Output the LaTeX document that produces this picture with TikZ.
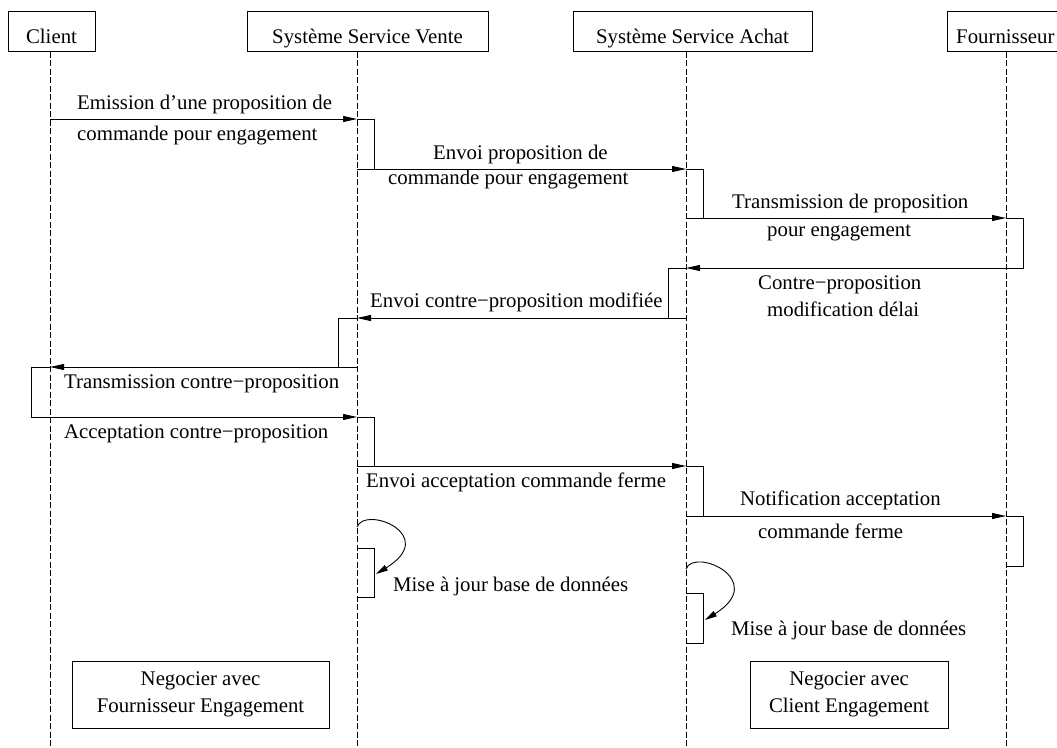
\documentclass[tikz,border=0pt]{standalone}
\usepackage{fontspec}
\setmainfont{Liberation Serif}
\usetikzlibrary{arrows.meta}
\begin{document}
\begin{tikzpicture}[x=1pt,y=-1pt,
  lbl/.style={font=\fontsize{20.8pt}{27pt}\selectfont, inner sep=0pt},
  msg/.style={line width=0.9pt, -{Triangle[length=14pt,width=6pt]}},
  act/.style={line width=0.9pt},
  life/.style={line width=0.8pt, dash pattern=on 6pt off 2.5pt},
  head/.style={draw, line width=0.9pt, lbl, minimum height=40pt, text height=25pt, text depth=1.8pt},
  note/.style={draw, line width=0.9pt, lbl, align=center, minimum height=67pt}]
\useasboundingbox (0,0) rectangle (1057,747);
\fill[white] (0,0) rectangle (1057,747);

% headers
\node[head, minimum width=87pt] (client) at (51.5,31.7) {Client};
\node[head, minimum width=241pt] (ssv) at (367.5,31.7) {Système Service Vente};
\node[head, minimum width=239pt] (ssa) at (692.5,31.7) {Système Service Achat};
\node[lbl, anchor=base west] (four) at (956,43.5) {Fournisseur};
\draw[act] (1057,11.7) -- (947,11.7) -- (947,51.7) -- (1057,51.7);

% lifelines
\coordinate (cT) at (50,51.7);   \coordinate (cB) at (50,747);
\coordinate (vT) at (357,51.7);  \coordinate (vB) at (357,747);
\coordinate (aT) at (686,51.7);  \coordinate (aB) at (686,747);
\coordinate (fT) at (1006,51.7); \coordinate (fB) at (1006,747);
\draw[life] (cT) -- (cB);
\draw[life] (vT) -- (vB);
\draw[life] (aT) -- (aB);
\draw[life] (fT) -- (fB);

% message end points
\coordinate (m1s) at (50,119);   \coordinate (m1e) at (357,119);
\coordinate (m2s) at (357,169);  \coordinate (m2e) at (686,169);
\coordinate (m3s) at (686,218);  \coordinate (m3e) at (1006,218);
\coordinate (m4s) at (1006,268); \coordinate (m4e) at (686,268);
\coordinate (m5s) at (686,318);  \coordinate (m5e) at (357,318);
\coordinate (m6s) at (357,367);  \coordinate (m6e) at (50,367);
\coordinate (m7s) at (50,417);   \coordinate (m7e) at (357,417);
\coordinate (m8s) at (357,466);  \coordinate (m8e) at (686,466);
\coordinate (m9s) at (686,516);  \coordinate (m9e) at (1006,516);

% activations
\draw[act] (m1e) -- (374,119) -- (374,169) -- (m2s);
\draw[act] (m2e) -- (703,169) -- (703,218) -- (m3s);
\draw[act] (m3e) -- (1023,218) -- (1023,268) -- (m4s);
\draw[act] (m4e) -- (668,268) -- (668,318) -- (m5s);
\draw[act] (m5e) -- (338,318) -- (338,367) -- (m6s);
\draw[act] (m6e) -- (31,367) -- (31,417) -- (m7s);
\draw[act] (m7e) -- (374,417) -- (374,466) -- (m8s);
\draw[act] (m8e) -- (703,466) -- (703,516) -- (m9s);
\draw[act] (m9e) -- (1023,516) -- (1023,566) -- (1006,566);
\draw[act] (357,548) -- (374,548) -- (374,597) -- (357,597);
\draw[act] (686,593) -- (703,593) -- (703,643) -- (686,643);

% messages
\draw[msg] (m1s) -- (m1e);
\draw[msg] (m2s) -- (m2e);
\draw[msg] (m3s) -- (m3e);
\draw[msg] (m4s) -- (m4e);
\draw[msg] (m5s) -- (m5e);
\draw[msg] (m6s) -- (m6e);
\draw[msg] (m7s) -- (m7e);
\draw[msg] (m8s) -- (m8e);
\draw[msg] (m9s) -- (m9e);

% self calls
\coordinate (s1s) at (357,527); \coordinate (s1e) at (376,574);
\coordinate (s2s) at (686,569); \coordinate (s2e) at (705,620);
\draw[msg, -{Triangle[length=12pt,width=6pt]}] (s1s) .. controls (365,505) and (440,535) .. (s1e);
\draw[msg, -{Triangle[length=12pt,width=6pt]}] (s2s) .. controls (694,547) and (769,580) .. (s2e);

% labels
\node[lbl, anchor=mid west] (l1a) at (77,107) {Emission d’une proposition de};
\node[lbl, anchor=mid west] (l1b) at (77,138) {commande pour engagement};
\node[lbl, anchor=mid west] (l2a) at (433,157) {Envoi proposition de};
\node[lbl, anchor=mid west] (l2b) at (388,182) {commande pour engagement};
\node[lbl, anchor=mid west] (l3a) at (732,206) {Transmission de proposition};
\node[lbl, anchor=mid west] (l3b) at (767,234) {pour engagement};
\node[lbl, anchor=mid west] (l4a) at (758,287) {Contre−proposition};
\node[lbl, anchor=mid west] (l4b) at (767,314) {modification délai};
\node[lbl, anchor=mid west] (l5) at (370,305) {Envoi contre−proposition modifiée};
\node[lbl, anchor=mid west] (l6) at (64,386) {Transmission contre−proposition};
\node[lbl, anchor=mid west] (l7) at (64,436) {Acceptation contre−proposition};
\node[lbl, anchor=mid west] (l8) at (366,485) {Envoi acceptation commande ferme};
\node[lbl, anchor=mid west] (l9a) at (740,503) {Notification acceptation};
\node[lbl, anchor=mid west] (l9b) at (758,536) {commande ferme};
\node[lbl, anchor=mid west] (l10) at (393,589) {Mise à jour base de données};
\node[lbl, anchor=mid west] (l11) at (731,633) {Mise à jour base de données};

% bottom notes
\node[note, minimum width=257pt] (n1) at (200.5,694.5) {Negocier avec\\Fournisseur Engagement};
\node[note, minimum width=198pt] (n2) at (849,694.5) {Negocier avec\\Client Engagement};
\end{tikzpicture}
\end{document}
